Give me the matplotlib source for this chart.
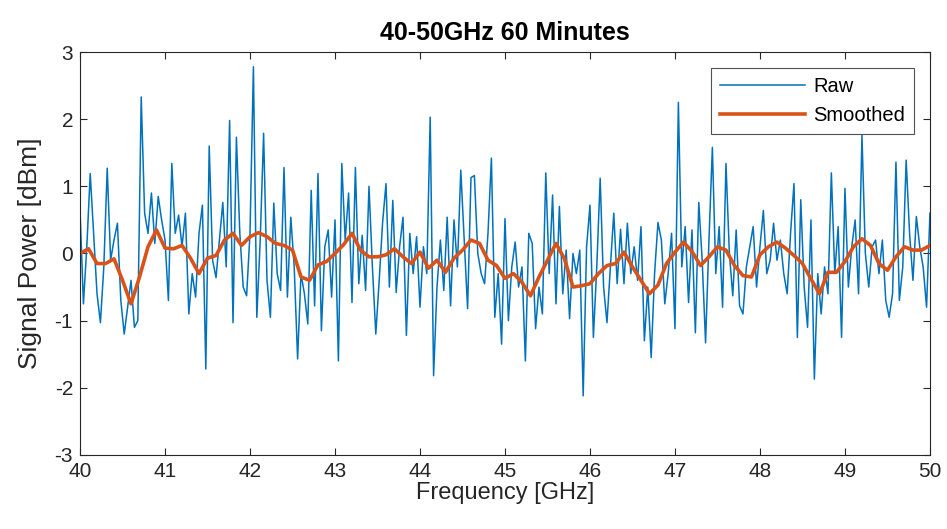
import numpy as np
import matplotlib
matplotlib.use("Agg")
import matplotlib.pyplot as plt

plt.rcParams['font.family'] = ['Liberation Sans', 'DejaVu Sans']
plt.rcParams['axes.unicode_minus'] = False

# Raw signal, 40-50 GHz, step 0.04 GHz
raw_40 = [0.64, -0.75, 0.1, 1.19, 0.3, -0.6, -1.03, -0.2, 1.27, -0.1, 0.2, 0.45, -0.7,
          -1.2, -0.8, -0.4, -1.1, -1.0, 2.33, 0.6, 0.3, 0.9, 0.15, 0.85, 0.5]
raw_41 = [0.2, -0.7, 1.34, 0.3, 0.57, 0.1, 0.6, -0.9, -0.3, -0.65, 0.3, 0.72, -1.72,
          1.6, -0.1, -0.36, 0.2, 0.76, -0.2, 1.98, -1.03, 1.73, 0.3, -0.5, -0.63]
raw_42 = [0.3, 2.78, -0.95, 0.2, 1.79, -0.4, -0.95, 0.75, -0.3, -0.55, 1.28, -0.65, 0.54,
          -0.2, -1.57, -0.3, -0.6, -1.05, 0.94, -0.78, 1.19, -1.15, 0.1, 0.35, -0.65]
raw_43 = [0.5, -1.6, 1.34, 0.2, 0.9, -0.73, 1.28, -0.45, 0.27, -0.55, 1.0, -0.2, -1.2,
          -0.4, 0.46, 1.04, -0.5, 0.79, -0.58, 0.1, 0.54, -1.22, 0.3, -0.3, 0.25]
raw_44 = [-0.8, 0.1, -0.3, 2.03, -1.82, -0.5, 0.2, -0.55, 0.54, -0.78, 0.5, -0.2, 1.24,
          0.2, -0.82, 1.13, 1.16, 0.0, -0.3, -0.45, 0.3, 1.42, -0.95, -0.3, -1.35]
raw_45 = [0.52, -1.0, -0.2, 0.17, -0.5, -0.2, -1.6, 0.3, 0.15, -1.12, -0.5, -0.9, 1.2,
          -0.3, 0.87, -0.75, 0.7, -0.6, 0.05, -0.97, 0.0, -0.3, 0.05, -2.12, 0.1]
raw_46 = [0.72, -1.25, -0.2, 1.12, -0.5, -1.03, -0.2, 0.6, -0.45, 0.36, -0.45, 0.45, -0.3,
          0.1, -0.4, 0.4, -1.3, -0.5, -1.55, -0.3, 0.46, 0.2, -0.75, -0.3, 0.3]
raw_47 = [-1.12, 2.25, -0.2, 0.4, -0.73, 0.35, -1.18, 0.76, -0.1, -1.33, 0.2, 1.58, -0.3,
          0.4, -0.8, 1.34, 0.0, -0.63, 0.35, -0.78, -0.9, -0.2, 0.1, 0.4, -0.5]
raw_48 = [0.1, 0.64, -0.3, -0.1, 0.45, -0.1, 0.2, -0.3, -0.6, 0.3, 1.04, -1.25, 0.8,
          -0.5, -1.1, 0.5, -1.87, -0.3, -0.9, -0.2, -0.6, 1.2, -0.3, 0.4, -1.25]
raw_49 = [0.97, -0.5, 0.1, 0.5, -0.6, 1.76, 0.0, -0.5, 0.1, 0.2, -0.3, 0.2, -0.7,
          -0.95, -0.6, 1.36, -0.7, -0.2, 1.39, 0.3, -0.4, 0.55, 0.1, -0.2, -0.8]
raw_50 = [0.6]

# Smoothed signal, step 0.1 GHz
smoothed = [0.0, 0.07, -0.15, -0.15, -0.08, -0.4, -0.75, -0.35, 0.1, 0.35,
            0.08, 0.07, 0.12, -0.07, -0.3, -0.07, -0.03, 0.2, 0.3, 0.12,
            0.25, 0.31, 0.25, 0.15, 0.12, 0.05, -0.35, -0.4, -0.17, -0.12,
            0.0, 0.13, 0.3, 0.05, -0.05, -0.05, -0.02, 0.07, -0.05, -0.15,
            0.02, -0.22, -0.1, -0.28, -0.07, 0.05, 0.2, 0.15, -0.1, -0.18,
            -0.37, -0.3, -0.43, -0.63, -0.35, -0.1, 0.15, -0.08, -0.5, -0.48,
            -0.45, -0.3, -0.18, -0.15, 0.02, -0.2, -0.4, -0.6, -0.47, -0.15,
            0.02, 0.17, 0.03, -0.18, -0.05, 0.1, 0.05, -0.18, -0.33, -0.35,
            -0.02, 0.1, 0.17, 0.08, -0.03, -0.15, -0.38, -0.6, -0.28, -0.28,
            -0.12, 0.1, 0.22, 0.12, -0.15, -0.25, -0.05, 0.1, 0.05, 0.05, 0.12]

x_ticks = [40, 41, 42, 43, 44, 45, 46, 47, 48, 49, 50]
y_ticks = [-3, -2, -1, 0, 1, 2, 3]

raw = raw_40 + raw_41 + raw_42 + raw_43 + raw_44 + raw_45 + raw_46 + raw_47 + raw_48 + raw_49 + raw_50
f_raw = np.linspace(40, 50, len(raw))
f_smooth = np.linspace(40, 50, len(smoothed))

fig = plt.figure(figsize=(9.47, 5.29), dpi=100)
ax = fig.add_axes([0.0845, 0.14, 0.8975, 0.7617])

ax.plot(f_raw, raw, color='#0072BD', linewidth=1.1, label='Raw')
ax.plot(f_smooth, smoothed, color='#D95319', linewidth=2.6, label='Smoothed')

ax.set_xlim(40, 50)
ax.set_ylim(-3, 3)
ax.set_xticks(x_ticks)
ax.set_yticks(y_ticks)
ax.tick_params(direction='in', length=5, width=0.8, labelsize=15, colors='#262626',
               top=True, right=True, pad=5)
for s in ax.spines.values():
    s.set_color('#262626')
    s.set_linewidth(0.8)

ax.set_xlabel('Frequency [GHz]', fontsize=17, color='#262626', labelpad=1)
ax.set_ylabel('Signal Power [dBm]', fontsize=19, color='#262626', labelpad=9)
ax.set_title('40-50GHz 60 Minutes', fontsize=18, fontweight='bold', color='#000000', pad=9)

leg = ax.legend(loc='upper right', fontsize=14.5, frameon=True, fancybox=False,
                edgecolor='#262626', handlelength=4.2, borderaxespad=0.8,
                labelspacing=0.5, borderpad=0.45, handletextpad=0.4)
leg.get_frame().set_linewidth(0.8)

fig.savefig('out.png', dpi=100)
